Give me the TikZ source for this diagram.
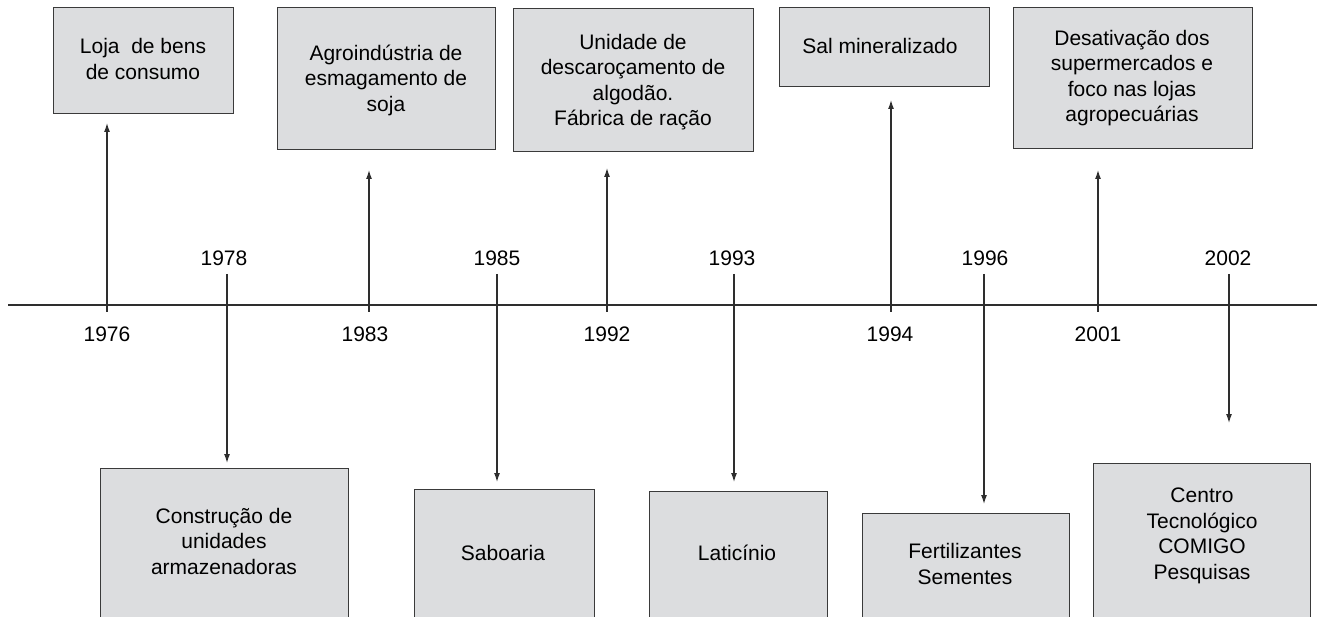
\documentclass[tikz,border=0pt]{standalone}
\usepackage{fontspec}
\setmainfont{Liberation Sans}
\usetikzlibrary{arrows.meta}
\definecolor{boxfill}{HTML}{DCDDDF}
\definecolor{boxline}{HTML}{3A3A3A}
\definecolor{ink}{HTML}{2E2E2E}
\tikzset{
  evbox/.style={draw=boxline, line width=1.4pt, fill=boxfill, rectangle, anchor=north west, inner sep=0pt},
  evtext/.style={align=center, inner sep=0pt, font=\fontsize{21}{25.5}\selectfont, text=black},
  yearlbl/.style={inner sep=0pt, font=\fontsize{21}{25.5}\selectfont, text=black},
  conn/.style={draw=ink, line width=1.2pt},
  arr/.style={conn, -{Latex[length=9pt,width=6pt]}},
}
\begin{document}
\begin{tikzpicture}[x=1pt,y=-1pt]
\useasboundingbox (0,0) rectangle (1317,617);
\clip (0,0) rectangle (1317,617);
% axis
\coordinate (axL) at (8,305);
\coordinate (axR) at (1317,305);
\draw[conn] (axL) -- (axR);

% ---------- top boxes ----------
\node[evbox, minimum width=180pt, minimum height=106pt] (bLoja) at (53,7) {};
\node[evtext] (tLoja) at (143,59) {Loja\ \ de bens\\de consumo};

\node[evbox, minimum width=218pt, minimum height=142pt] (bAgro) at (277,7) {};
\node[evtext] (tAgro) at (386,80) {Agroindústria de\\esmagamento de\\soja};

\node[evbox, minimum width=240pt, minimum height=143pt] (bUni) at (513,8) {};
\node[evtext] (tUni) at (633,82) {Unidade de\\descaroçamento de\\algodão.\\Fábrica de ração};

\node[evbox, minimum width=210pt, minimum height=79pt] (bSal) at (779,7) {};
\node[evtext] (tSal) at (880,46) {Sal mineralizado};

\node[evbox, minimum width=239pt, minimum height=141pt] (bDes) at (1013,7) {};
\node[evtext] (tDes) at (1132,78) {Desativação dos\\supermercados e\\foco nas lojas\\agropecuárias};

% ---------- bottom boxes ----------
\node[evbox, minimum width=248pt, minimum height=180pt] (bCon) at (100,468) {};
\node[evtext] (tCon) at (224,541) {Construção de\\unidades\\armazenadoras};

\node[evbox, minimum width=180pt, minimum height=160pt] (bSab) at (414,489) {};
\node[evtext] (tSab) at (503,553) {Saboaria};

\node[evbox, minimum width=178pt, minimum height=160pt] (bLat) at (649,491) {};
\node[evtext] (tLat) at (737,553) {Laticínio};

\node[evbox, minimum width=207pt, minimum height=140pt] (bFer) at (862,513) {};
\node[evtext] (tFer) at (965,564) {Fertilizantes\\Sementes};

\node[evbox, minimum width=217pt, minimum height=180pt] (bCen) at (1093,463) {};
\node[evtext] (tCen) at (1202,536) {Centro\\Tecnológico\\COMIGO\\Pesquisas};

% ---------- up arrows (below-axis labels) ----------
\coordinate (s76) at (107,312); \coordinate (e76) at (107,123);
\coordinate (s83) at (369,312); \coordinate (e83) at (369,170);
\coordinate (s92) at (607,312); \coordinate (e92) at (607,168);
\coordinate (s94) at (891,312); \coordinate (e94) at (891,100);
\coordinate (s01) at (1098,312); \coordinate (e01) at (1098,170);
\draw[arr] (s76) -- (e76);
\draw[arr] (s83) -- (e83);
\draw[arr] (s92) -- (e92);
\draw[arr] (s94) -- (e94);
\draw[arr] (s01) -- (e01);

% ---------- down arrows (above-axis labels) ----------
\coordinate (s78) at (227,274); \coordinate (e78) at (227,463);
\coordinate (s85) at (497,274); \coordinate (e85) at (497,482);
\coordinate (s93) at (734,274); \coordinate (e93) at (734,482);
\coordinate (s96) at (984,274); \coordinate (e96) at (984,504);
\coordinate (s02) at (1229,274); \coordinate (e02) at (1229,423);
\draw[arr] (s78) -- (e78);
\draw[arr] (s85) -- (e85);
\draw[arr] (s93) -- (e93);
\draw[arr] (s96) -- (e96);
\draw[arr] (s02) -- (e02);

% ---------- year labels ----------
\node[yearlbl] (y76) at (107,334) {1976};
\node[yearlbl] (y83) at (365,334) {1983};
\node[yearlbl] (y92) at (607,334) {1992};
\node[yearlbl] (y94) at (890,334) {1994};
\node[yearlbl] (y01) at (1098,334) {2001};
\node[yearlbl] (y78) at (224,258) {1978};
\node[yearlbl] (y85) at (497,258) {1985};
\node[yearlbl] (y93) at (732,258) {1993};
\node[yearlbl] (y96) at (985,258) {1996};
\node[yearlbl] (y02) at (1228,258) {2002};
\end{tikzpicture}
\end{document}
